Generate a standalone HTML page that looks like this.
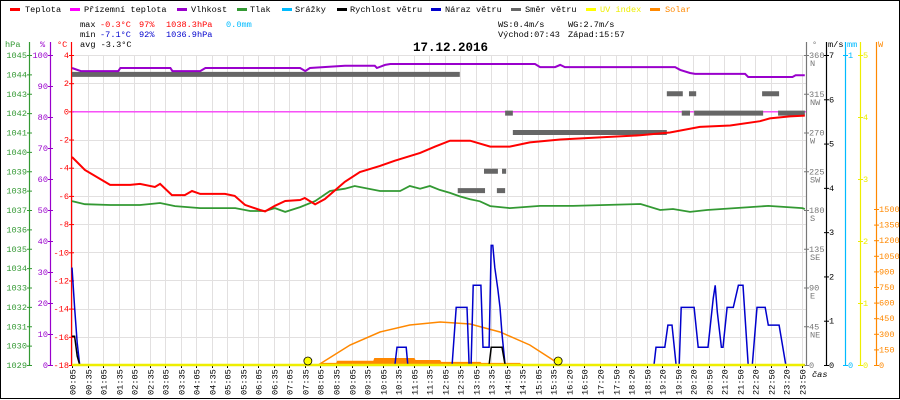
<!DOCTYPE html>
<html><head><meta charset="utf-8"><style>
html,body{margin:0;padding:0;background:#fff}
svg{display:block}
text{font-family:"Liberation Mono",monospace;font-size:8.6px}
</style></head><body>
<svg id="chart" width="900" height="400" viewBox="0 0 900 400" xmlns="http://www.w3.org/2000/svg">
<rect x="0.5" y="0.5" width="899" height="398" fill="#fff" stroke="#000"/>
<g id="grid"></g>
<g id="legend">
 <rect x="10" y="8" width="10" height="3" fill="#f00"/><text x="25" y="12">Teplota</text>
 <rect x="70" y="8" width="10" height="3" fill="#f0f"/><text x="84" y="12">Přízemní teplota</text>
 <rect x="177" y="8" width="10" height="3" fill="#90c"/><text x="191" y="12">Vlhkost</text>
 <rect x="237" y="8" width="10" height="3" fill="#393"/><text x="250" y="12">Tlak</text>
 <rect x="282" y="8" width="10" height="3" fill="#0bf"/><text x="295" y="12">Srážky</text>
 <rect x="337" y="8" width="10" height="3" fill="#000"/><text x="350" y="12">Rychlost větru</text>
 <rect x="431" y="8" width="10" height="3" fill="#00c"/><text x="445" y="12">Náraz větru</text>
 <rect x="511" y="8" width="10" height="3" fill="#666"/><text x="525" y="12">Směr větru</text>
 <rect x="586" y="8" width="10" height="3" fill="#ff0"/><text x="600" y="12" fill="#ee0">UV index</text>
 <rect x="650" y="8" width="10" height="3" fill="#f80"/><text x="665" y="12" fill="#f80">Solar</text>
</g>
<g id="stats">
 <text x="80" y="27">max</text>
 <text x="100" y="27" fill="#f00">-0.3°C</text>
 <text x="139" y="27" fill="#f00">97%</text>
 <text x="166" y="27" fill="#f00">1038.3hPa</text>
 <text x="226" y="27" fill="#0bf">0.0mm</text>
 <text x="80" y="37">min</text>
 <text x="100" y="37" fill="#00c">-7.1°C</text>
 <text x="139" y="37" fill="#00c">92%</text>
 <text x="166" y="37" fill="#00c">1036.9hPa</text>
 <text x="80" y="47">avg -3.3°C</text>
 <text x="498" y="27">WS:0.4m/s</text>
 <text x="568" y="27">WG:2.7m/s</text>
 <text x="498" y="37">Východ:07:43</text>
 <text x="568" y="37">Západ:15:57</text>
 <text x="413" y="51" style="font-size:12.5px;font-weight:bold">17.12.2016</text>
</g>
<g id="axes"></g>
<g id="series"></g>
</svg>
<script>
// ---- data (times in minutes from midnight) ----
const xLabels = ["00:05","00:35","01:05","01:35","02:05","02:35","03:05","03:35","04:05","04:35","05:05","05:35","06:05","06:35","07:05","07:35","08:05","08:35","09:05","09:35","10:05","10:35","11:05","11:35","12:05","12:35","13:05","13:35","14:05","14:35","15:05","15:35","16:20","16:50","17:20","17:50","18:20","18:50","19:20","19:50","20:20","20:50","21:20","21:50","22:20","22:50","23:20","23:50"];
const tempT = [5,30,79,118,137,166,176,199,224,238,254,302,321,341,370,380,399,419,448,457,477,496,535,564,603,632,681,710,739,778,817,855,894,953,1030,1108,1166,1224,1283,1341,1360,1399,1428];
const tempV = [-3.24,-4.16,-5.22,-5.22,-5.15,-5.37,-5.15,-5.94,-5.94,-5.65,-5.86,-5.86,-6.0,-6.64,-7.0,-7.1,-6.7,-6.36,-6.29,-6.15,-6.6,-6.22,-5.0,-4.3,-3.87,-3.5,-2.95,-2.5,-2.08,-2.08,-2.5,-2.5,-2.2,-2.0,-1.85,-1.7,-1.5,-1.1,-1.0,-0.7,-0.5,-0.36,-0.3];
const presT = [5,30,79,118,137,157,176,205,254,322,351,380,399,419,448,477,506,535,554,603,642,661,681,700,719,739,758,778,797,817,855,914,978,1109,1147,1172,1205,1238,1357,1423,1428];
const presV = [1037.46,1037.3,1037.26,1037.26,1037.26,1037.31,1037.36,1037.2,1037.1,1037.1,1036.95,1036.95,1037.1,1036.9,1037.15,1037.46,1037.98,1038.1,1038.24,1037.98,1037.98,1038.24,1038.1,1038.24,1038.04,1037.88,1037.7,1037.55,1037.45,1037.2,1037.1,1037.21,1037.21,1037.31,1037.0,1037.05,1036.9,1037.0,1037.21,1037.1,1037.05];
const humT = [5,22,95,99,196,200,254,264,448,458,467,535,593,597,613,623,681,700,904,914,943,953,962,972,1176,1186,1205,1215,1312,1318,1404,1410,1428];
const humV = [95.8,94.8,94.8,95.8,95.8,94.8,94.8,95.8,95.8,94.8,95.8,96.5,96.5,95.8,96.8,97.1,97.1,97.1,97.1,96.1,96.1,96.8,96.1,96.1,96.1,95.2,94.2,93.9,93.9,92.9,92.9,93.5,93.5];
const dirStart = [5,754,830,805,840,846,861,1160,1203,1189,1213,1345,1376];
const dirEnd   = [758,807,846,832,848,861,1160,1191,1217,1205,1347,1378,1428];
const dirDeg   = [337.5,202.5,202.5,225,225,292.5,270,315,315,292.5,292.5,315,292.5];
const gustT = [5,10,15,20,632,636,654,657,743,751,772,776,780,784,799,803,815,819,822,826,832,836,840,846,1135,1139,1156,1162,1170,1178,1184,1188,1213,1221,1240,1250,1254,1258,1266,1269,1277,1289,1299,1308,1318,1326,1335,1351,1357,1378,1391,1428];
const gustV = [2.2,1.3,0.5,0,0,0.4,0.4,0,0,1.3,1.3,0,0,1.8,1.8,0.4,0.4,2.7,2.7,2.2,1.7,1.3,0.7,0,0,0.4,0.4,0.9,0.9,0,0,1.3,1.3,0.4,0.4,1.5,1.8,1.2,0.4,0.4,1.3,1.3,1.8,1.8,0,0,1.3,1.3,0.9,0.9,0,0];
const windT = [5,10,15,20,815,819,840,846,1428];
const windV = [0.65,0.65,0.2,0,0,0.4,0.4,0,0];
const solarTheoT = [483,545,603,661,720,778,836,894,945,951];
const solarTheoV = [0,192,317,385,413,394,317,192,29,0];
const solarT = [483,490,518,520,590,592,670,672,720,722,798,800,875,877,935,940];
const solarV = [0,20,20,40,40,67,67,48,48,30,30,20,20,10,10,0];
const uvT = [5,1428];
const uvV = [0,0];
const sunEvents = [463,949];
const hpaTicks = [1045,1044,1043,1042,1041,1040,1039,1038,1037,1036,1035,1034,1033,1032,1031,1030,1029];
const humTicks = [100,90,80,70,60,50,40,30,20,10,0];
const tempTicks = [4,2,0,-2,-4,-6,-8,-10,-12,-14,-16,-18];
const dirTicks = [360,315,270,225,180,135,90,45,0];
const dirNames = ["N","NW","W","SW","S","SE","E","NE",""];
const msTicks = [7,6,5,4,3,2,1,0];
const mmTicks = [1,0];
const uvTicks = [5,4,3,2,1,0];
const wTicks = [1500,1350,1200,1050,900,750,600,450,300,150,0];

// ---- scales ----
const NS="http://www.w3.org/2000/svg";
const TOP=55, BOT=365, X0=72;
const x = t => X0 + (t-5)*15.45/30;
const xi = i => X0 + i*15.53;
const yT = v => TOP + (4-v)*(BOT-TOP)/22;
const yP = v => TOP + (1045-v)*(BOT-TOP)/16;
const yH = v => TOP + (100-v)*(BOT-TOP)/100;
const yD = v => BOT - v*(BOT-TOP)/360;
const yW = v => BOT - v*(BOT-TOP)/7;
const yMM = v => BOT - v*(BOT-TOP)/1;
const yUV = v => BOT - v*(BOT-TOP)/5;
const yS = v => BOT - v*156/1500;

function mk(tag, attrs, parent){const e=document.createElementNS(NS,tag);for(const k in attrs)e.setAttribute(k,attrs[k]);parent.appendChild(e);return e;}
const grid=document.getElementById('grid'), axes=document.getElementById('axes'), series=document.getElementById('series');

// grid
xLabels.forEach((lab,i)=>{
  const gx=Math.round(xi(i))+0.5;
  const l=mk('line',{x1:gx,x2:gx,y1:TOP,y2:BOT,stroke:'#e2e0e0'},grid);
  
  
  const tk=mk('line',{x1:gx,x2:gx,y1:BOT,y2:BOT+3,stroke:'#000'},grid);
  
  
  const tx=mk('text',{x:0,y:0,transform:`translate(${gx+3},${BOT+30}) rotate(-90)`,'font-size':'8.6'},grid);
  tx.textContent=lab;
  
  
});
tempTicks.forEach(v=>{
  const gy=Math.round(yT(v))+0.5;
  const l=mk('line',{x1:X0,x2:806,y1:gy,y2:gy,stroke:'#e2e0e0'},grid);
  
  
});
const bl=mk('line',{x1:0,x2:900,y1:398.5,y2:398.5,stroke:'#000'},grid);


const cas=mk('text',{x:812,y:377,'font-style':'italic'},grid);
cas.textContent='čas';



// axes helper
function axis(name, ax, color, ticks, yf, labelSide, fmt, title, titleX){
  const ln=mk('line',{x1:ax+0.5,x2:ax+0.5,y1:TOP-13,y2:BOT+1,stroke:color,'stroke-width':1.2},axes);
  
  
  ticks.forEach((v,i)=>{
    const ty=yf(v);
    const tk=mk('line',{x1:ax-2,x2:ax+3,y1:ty+0.5,y2:ty+0.5,stroke:color},axes);
    
    
    const t=mk('text',{x:labelSide<0?ax-2:ax+3,y:ty+3,fill:color,'text-anchor':labelSide<0?'end':'start'},axes);
    t.textContent=fmt?fmt(v,i):String(v);
    
    
  });
  const tt=mk('text',{x:titleX,y:47,fill:color},axes);
  tt.textContent=title;
  
  
}
axis('pressure',29,'#393',hpaTicks,yP,-1,null,'hPa',5);
axis('humidity',50,'#90c',humTicks,yH,-1,null,'%',40);
axis('temperature',71,'#f00',tempTicks,yT,-1,null,'°C',57);
axis('direction',806,'#777',dirTicks,yD,1,null,'°',812);
dirTicks.forEach((v,i)=>{
  const t=mk('text',{x:810,y:yD(v)+11,fill:'#777'},axes);
  t.textContent=dirNames[i];
  
  
});
axis('wind-speed',826,'#000',msTicks,yW,1,null,'m/s',828);
axis('rain',845,'#0bf',mmTicks,yMM,1,null,'mm',847);
axis('uv',860,'#ee0',uvTicks,yUV,1,null,'',862);
axis('solar',876,'#f80',wTicks,yS,1,null,'W',878);

function pathStep(ts,vs,yf){let d='';ts.forEach((t,i)=>{d+=(i?'L':'M')+x(t).toFixed(1)+','+yf(vs[i]).toFixed(1);});return d;}

const zl=mk('line',{x1:X0,x2:806,y1:yT(0)+0.5,y2:yT(0)+0.5,stroke:'#f0f'},series);



dirDeg.forEach((d,i)=>{
  const r=mk('rect',{x:x(dirStart[i]),y:yD(d)-2.5,width:Math.max(2,x(dirEnd[i])-x(dirStart[i])),height:5,fill:'#666'},series);
  
  
});

{
  let d='M'+x(solarT[0])+','+BOT;
  solarT.forEach((t,i)=>{d+='L'+x(t).toFixed(1)+','+yS(solarV[i]).toFixed(1);});
  d+='L'+x(solarT[solarT.length-1])+','+BOT+'Z';
  const p=mk('path',{d:d,fill:'#f80'},series);
  
  
}
const sth=mk('path',{d:pathStep(solarTheoT,solarTheoV,yS),fill:'none',stroke:'#f80','stroke-width':1.5},series);



const hum=mk('path',{d:pathStep(humT,humV,yH),fill:'none',stroke:'#90c','stroke-width':2},series);


const pres=mk('path',{d:pathStep(presT,presV,yP),fill:'none',stroke:'#393','stroke-width':1.8},series);


const temp=mk('path',{d:pathStep(tempT,tempV,yT),fill:'none',stroke:'#f00','stroke-width':2},series);


const gust=mk('path',{d:pathStep(gustT,gustV,yW),fill:'none',stroke:'#00c','stroke-width':1.5},series);


const wind=mk('path',{d:pathStep(windT,windV,yW),fill:'none',stroke:'#000','stroke-width':1.5},series);


const uv=mk('path',{d:pathStep(uvT,uvV,yUV),fill:'none',stroke:'#ee0','stroke-width':2.5},series);


sunEvents.forEach(t=>{
  const c=mk('circle',{cx:x(t),cy:BOT-4,r:4,fill:'#ff0',stroke:'#000','stroke-width':0.8},series);
  
  
});
</script>
</body></html>
